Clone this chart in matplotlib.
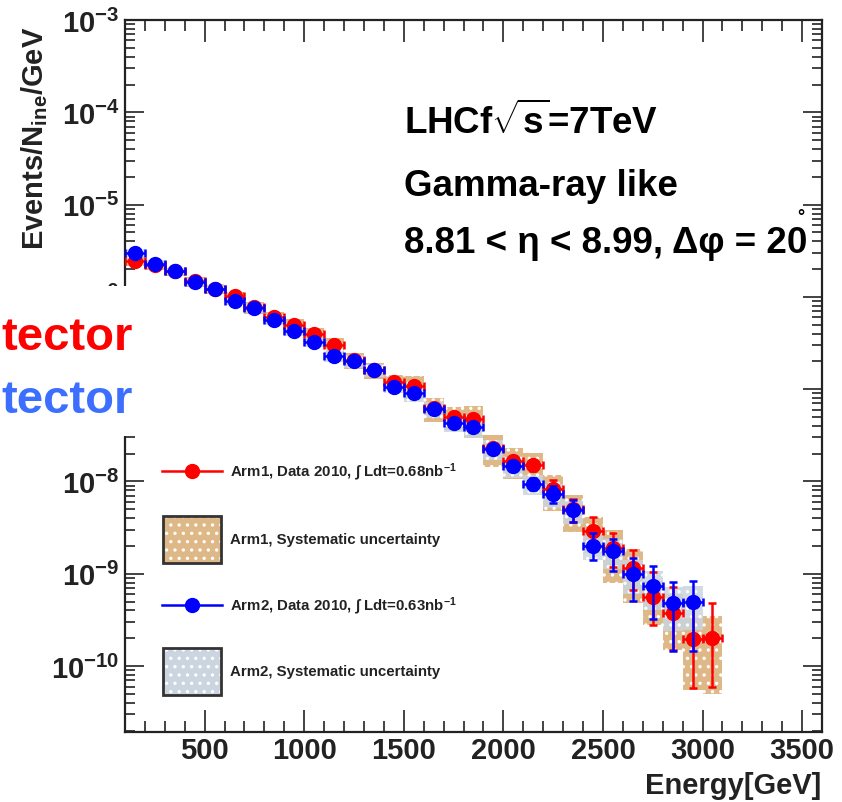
import matplotlib
matplotlib.use('Agg')
import matplotlib.pyplot as plt
import numpy as np
from matplotlib.patches import Rectangle
from matplotlib.lines import Line2D
from matplotlib.ticker import MultipleLocator, LogLocator, NullFormatter, FixedLocator

# ---------------- data ----------------
energy = [150, 250, 350, 450, 550, 650, 750, 850, 950, 1050,
          1150, 1250, 1350, 1450, 1550, 1650, 1750, 1850, 1950, 2050,
          2150, 2250, 2350, 2450, 2550, 2650, 2750, 2850, 2950, 3050]
bin_half_width = 50

arm1_flux = [2.45e-6, 2.2e-6, 1.9e-6, 1.47e-6, 1.22e-6, 1.02e-6, 7.7e-7, 6.0e-7, 5.0e-7, 3.96e-7,
             3.01e-7, 2.05e-7, 1.62e-7, 1.20e-7, 1.08e-7, 6.2e-8, 5.0e-8, 4.75e-8, 2.3e-8, 1.67e-8,
             1.5e-8, 8.3e-9, 5.0e-9, 2.91e-9, 1.9e-9, 1.16e-9, 5.6e-10, 3.76e-10, 1.95e-10, 2.0e-10]
arm1_stat_up = [0.02, 0.02, 0.02, 0.02, 0.03, 0.03, 0.03, 0.03, 0.04, 0.04,
                0.04, 0.05, 0.05, 0.06, 0.06, 0.07, 0.08, 0.09, 0.10, 0.12,
                0.14, 0.25, 0.30, 0.42, 0.45, 0.57, 0.85, 0.90, 1.40, 1.40]
arm1_stat_dn = [0.02, 0.02, 0.02, 0.02, 0.03, 0.03, 0.03, 0.03, 0.04, 0.04,
                0.04, 0.05, 0.05, 0.06, 0.06, 0.07, 0.08, 0.09, 0.10, 0.12,
                0.14, 0.22, 0.27, 0.36, 0.38, 0.42, 0.50, 0.60, 0.70, 0.70]
arm1_sys = [0.12, 0.12, 0.12, 0.12, 0.12, 0.12, 0.15, 0.15, 0.15, 0.15,
            0.20, 0.20, 0.20, 0.20, 0.28, 0.28, 0.28, 0.37, 0.37, 0.37,
            0.37, 0.43, 0.43, 0.43, 0.58, 0.58, 0.50, 0.60, 0.72, 0.75]

arm2_flux = [2.99e-6, 2.27e-6, 1.91e-6, 1.45e-6, 1.22e-6, 9.0e-7, 7.58e-7, 5.62e-7, 4.27e-7, 3.25e-7,
             2.29e-7, 2.02e-7, 1.61e-7, 1.06e-7, 9.1e-8, 6.1e-8, 4.3e-8, 3.9e-8, 2.25e-8, 1.47e-8,
             9.4e-9, 7.3e-9, 4.9e-9, 2.0e-9, 1.75e-9, 9.95e-10, 7.4e-10, 4.8e-10, 4.9e-10]
arm2_stat_up = [0.02, 0.02, 0.02, 0.02, 0.03, 0.03, 0.03, 0.03, 0.04, 0.04,
                0.04, 0.05, 0.05, 0.06, 0.06, 0.07, 0.08, 0.09, 0.10, 0.12,
                0.15, 0.22, 0.30, 0.38, 0.35, 0.49, 0.65, 0.70, 0.70]
arm2_stat_dn = [0.02, 0.02, 0.02, 0.02, 0.03, 0.03, 0.03, 0.03, 0.04, 0.04,
                0.04, 0.05, 0.05, 0.06, 0.06, 0.07, 0.08, 0.09, 0.10, 0.12,
                0.15, 0.20, 0.25, 0.30, 0.39, 0.49, 0.56, 0.70, 0.70]
arm2_sys = [0.10, 0.10, 0.10, 0.10, 0.10, 0.10, 0.12, 0.12, 0.12, 0.12,
            0.15, 0.15, 0.15, 0.15, 0.20, 0.20, 0.20, 0.25, 0.25, 0.25,
            0.25, 0.30, 0.30, 0.30, 0.35, 0.40, 0.45, 0.50, 0.50]

x_ticks = [500, 1000, 1500, 2000, 2500, 3000, 3500]
legend_labels = [r"Arm1, Data 2010, $\int$ Ldt=0.68nb$^{-1}$",
                 "Arm1, Systematic uncertainty",
                 r"Arm2, Data 2010, $\int$ Ldt=0.63nb$^{-1}$",
                 "Arm2, Systematic uncertainty"]

# ---------------- style ----------------
plt.rcParams['font.family'] = ['Liberation Sans', 'DejaVu Sans']
plt.rcParams['font.weight'] = 'bold'
plt.rcParams['mathtext.fontset'] = 'custom'
plt.rcParams['mathtext.rm'] = 'Liberation Sans:bold'
plt.rcParams['mathtext.it'] = 'Liberation Sans:italic:bold'
plt.rcParams['mathtext.bf'] = 'Liberation Sans:bold'
plt.rcParams['mathtext.sf'] = 'Liberation Sans:bold'
plt.rcParams['hatch.linewidth'] = 1.2

TAN = '#DEB887'
GREY = '#CBD5DF'
INK = '#222222'

W, H = 842, 803
fig = plt.figure(figsize=(W / 100, H / 100), dpi=100)
ax = fig.add_axes([125 / W, 1 - 733 / H, (822 - 125) / W, (733 - 21) / H])


def fx(px):
    return px / W


def fy(py):
    return 1 - py / H


E = np.array(energy, float)
a1 = np.array(arm1_flux)
a2 = np.array(arm2_flux)
E2 = E[:len(a2)]
s1 = np.array(arm1_sys)
s2 = np.array(arm2_sys)

# systematic boxes
ax.bar(E, a1 * 2 * s1, bottom=a1 * (1 - s1), width=2 * bin_half_width,
       color=TAN, edgecolor='white', hatch='..', linewidth=0, zorder=1)
ax.bar(E2, a2 * 2 * s2, bottom=a2 * (1 - s2), width=2 * bin_half_width,
       color=GREY, edgecolor='white', hatch='..', linewidth=0, zorder=2, alpha=0.85)

# data points
ax.errorbar(E, a1, xerr=bin_half_width,
            yerr=[a1 * np.array(arm1_stat_dn), a1 * np.array(arm1_stat_up)],
            fmt='o', color='red', ms=10, elinewidth=1.8, capsize=3, capthick=1.8, zorder=3)
ax.errorbar(E2, a2, xerr=bin_half_width,
            yerr=[a2 * np.array(arm2_stat_dn), a2 * np.array(arm2_stat_up)],
            fmt='o', color='blue', ms=10, elinewidth=1.8, capsize=3, capthick=1.8, zorder=4)

ax.set_yscale('log')
ax.set_xlim(100, 3600)
ax.set_ylim(1.93e-11, 1e-3)

ax.xaxis.set_major_locator(FixedLocator(x_ticks))
ax.xaxis.set_minor_locator(MultipleLocator(100))
ax.yaxis.set_major_locator(LogLocator(base=10, numticks=20))
ax.yaxis.set_minor_locator(LogLocator(base=10, subs=np.arange(2, 10), numticks=100))
ax.yaxis.set_minor_formatter(NullFormatter())

ax.tick_params(which='both', direction='in', top=True, right=True, width=1.2,
               colors=INK, labelsize=21)
ax.xaxis.set_tick_params(which='major', length=16, pad=3)
ax.xaxis.set_tick_params(which='minor', length=8)
ax.yaxis.set_tick_params(which='major', length=14, pad=4)
ax.yaxis.set_tick_params(which='minor', length=7)
for sp in ax.spines.values():
    sp.set_linewidth(1.6)
    sp.set_color(INK)

# axis titles
fig.text(fx(35), fy(27), r'Events/N$_{\rm ine}$/GeV', rotation=90,
         ha='center', va='top', fontsize=21, color=INK)
fig.text(fx(821), fy(786), 'Energy[GeV]', ha='right', va='center',
         fontsize=21, color=INK)

# annotations
fig.text(fx(404), fy(134), r'LHCf$\sqrt{\mathrm{s}}$=7TeV', ha='left', va='baseline',
         fontsize=26.5, color='black')
fig.text(fx(404), fy(196), 'Gamma-ray like', ha='left', va='baseline',
         fontsize=26.5, color='black')
fig.text(fx(404), fy(253), '8.81 < η < 8.99, Δφ = 20', ha='left',
         va='baseline', fontsize=26.5, color='black')
fig.text(fx(797), fy(222), '°', ha='left', va='baseline', fontsize=13, color='black')

# legend, drawn by hand in figure pixels
row_y = [472, 540, 606, 672]
hx0, hx1 = 162, 222
for yy, col in ((row_y[0], 'red'), (row_y[2], 'blue')):
    fig.add_artist(Line2D([fx(hx0), fx(hx1)], [fy(yy), fy(yy)], transform=fig.transFigure,
                          color=col, lw=1.8, marker='o', markevery=[], zorder=5))
    fig.add_artist(Line2D([fx((hx0 + hx1) / 2)], [fy(yy)], transform=fig.transFigure,
                          color=col, marker='o', ms=10, ls='none', zorder=6))
for yy, col in ((row_y[1], TAN), (row_y[3], GREY)):
    x0, y0, ww, hh = fx(hx0 + 1), fy(yy + 23.5), (hx1 - hx0 - 2) / W, 47 / H
    fig.add_artist(Rectangle((x0, y0), ww, hh, transform=fig.transFigure,
                             facecolor=col, edgecolor='none', zorder=5))
    fig.add_artist(Rectangle((x0, y0), ww, hh, transform=fig.transFigure,
                             facecolor='none', edgecolor='white', hatch='..', lw=0, zorder=6))
    fig.add_artist(Rectangle((x0, y0), ww, hh, transform=fig.transFigure,
                             facecolor='none', edgecolor='#333333', lw=2, zorder=7))
for yy, lab in zip(row_y, legend_labels):
    fig.text(fx(230), fy(yy), lab, ha='left', va='center', fontsize=10.8, color=INK)

# white slide box overlapping the left of the chart, with cut text
fig.add_artist(Rectangle((0, fy(437)), 150 / W, 150 / H, transform=fig.transFigure,
                         facecolor='white', edgecolor='none', zorder=10))
fig.text(fx(133), fy(350), 'tector', ha='right', va='baseline', fontsize=34,
         color='#FF0000', zorder=11)
fig.text(fx(133), fy(413), 'tector', ha='right', va='baseline', fontsize=34,
         color='#3C6EFF', zorder=11)

fig.savefig('out.png', dpi=100)
